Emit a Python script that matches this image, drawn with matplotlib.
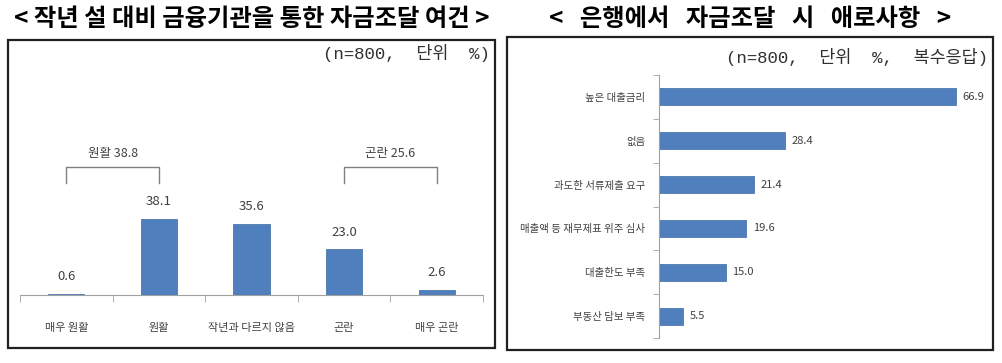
import matplotlib
matplotlib.use("Agg")
import matplotlib.pyplot as plt
from matplotlib.patches import Rectangle

plt.rcParams['font.family'] = ['Noto Sans CJK KR', 'DejaVu Sans']

# ---- data ----
left_title = "< 작년 설 대비 금융기관을 통한 자금조달 여건 >"
left_note = "(n=800,  단위  %)"
left_categories = ["매우 원활", "원활", "작년과 다르지 않음", "곤란", "매우 곤란"]
left_values = [0.6, 38.1, 35.6, 23.0, 2.6]
left_groups = [("원활 38.8", 0, 1), ("곤란 25.6", 3, 4)]

right_title = "<   은행에서   자금조달   시   애로사항   >"
right_note = "(n=800,  단위  %,  복수응답)"
right_categories = ["높은 대출금리", "없음", "과도한 서류제출 요구",
                    "매출액 등 재무제표 위주 심사", "대출한도 부족", "부동산 담보 부족"]
right_values = [66.9, 28.4, 21.4, 19.6, 15.0, 5.5]

BAR = "#4F7FBD"
TXT = "#404040"
W, H = 1002, 363

fig = plt.figure(figsize=(W / 100, H / 100), dpi=100)


def fx(px):
    return px / W


def fy(py):
    return 1 - py / H


# frames
for (x0, y0, x1, y1) in [(8, 40, 495, 348), (507, 37, 993, 350)]:
    fig.add_artist(Rectangle((fx(x0), fy(y1)), fx(x1 - x0), (y1 - y0) / H,
                             transform=fig.transFigure, fill=False,
                             edgecolor="#202020", lw=1.6))

# titles
fig.text(fx(252), fy(19), left_title, ha="center", va="center",
         fontsize=17.5, fontweight="bold", color="black")
fig.text(fx(750), fy(19), right_title, ha="center", va="center",
         fontsize=17.5, fontweight="bold", color="black")
NOTE_FONT = ['Liberation Mono', 'Noto Sans CJK KR']
fig.text(fx(490), fy(53), left_note, ha="right", va="center", fontsize=12.5,
         family=NOTE_FONT, color="#303030")
fig.text(fx(988), fy(57), right_note, ha="right", va="center", fontsize=12.5,
         family=NOTE_FONT, color="#303030")

# ---- left chart ----
ax = fig.add_axes([fx(20), fy(295), fx(463), 145 / H])
xs = list(range(len(left_values)))
ax.bar(xs, left_values, width=0.39, color=BAR, edgecolor="#3d6aa5", lw=0.5)
ax.set_xlim(-0.5, len(xs) - 0.5)
ax.set_ylim(0, 72.5)
for s in ["top", "right", "left"]:
    ax.spines[s].set_visible(False)
ax.spines["bottom"].set_color("#a0a0a0")
ax.set_yticks([])
ax.set_xticks(xs)
ax.set_xticklabels(left_categories, fontsize=8, color=TXT)
ax.tick_params(axis="x", which="major", length=0, pad=20)
ax.set_xticks([i - 0.5 for i in range(len(xs) + 1)], minor=True)
ax.tick_params(axis="x", which="minor", length=5, color="#a0a0a0")
for x, v in zip(xs, left_values):
    ax.text(x, v + 8.5, f"{v:.1f}", ha="center", va="center", fontsize=9.5,
            color=TXT)
for label, a, b in left_groups:
    ax.plot([a, a, b, b], [56, 64, 64, 56], color="#808080", lw=1,
            clip_on=False)
    ax.text((a + b) / 2, 70.5, label, ha="center", va="center", fontsize=9,
            color=TXT, clip_on=False)

# ---- right chart ----
ax2 = fig.add_axes([fx(659), fy(338), fx(333), 263 / H])
ys = list(range(len(right_values)))
ax2.barh(ys, right_values, height=0.39, color=BAR, edgecolor="#3d6aa5", lw=0.5)
ax2.set_ylim(len(ys) - 0.5, -0.5)
ax2.set_xlim(0, 75)
for s in ["top", "right", "bottom"]:
    ax2.spines[s].set_visible(False)
ax2.spines["left"].set_color("#a0a0a0")
ax2.set_xticks([])
ax2.set_yticks(ys)
ax2.set_yticklabels(right_categories, fontsize=7.5, color=TXT)
ax2.tick_params(axis="y", which="major", length=0, pad=10)
ax2.set_yticks([i - 0.5 for i in range(len(ys) + 1)], minor=True)
ax2.tick_params(axis="y", which="minor", length=4, color="#a0a0a0")
for y, v in zip(ys, right_values):
    ax2.text(v + 1.5, y, f"{v:.1f}", ha="left", va="center", fontsize=8,
             color=TXT)

fig.savefig("out.png", dpi=100)
